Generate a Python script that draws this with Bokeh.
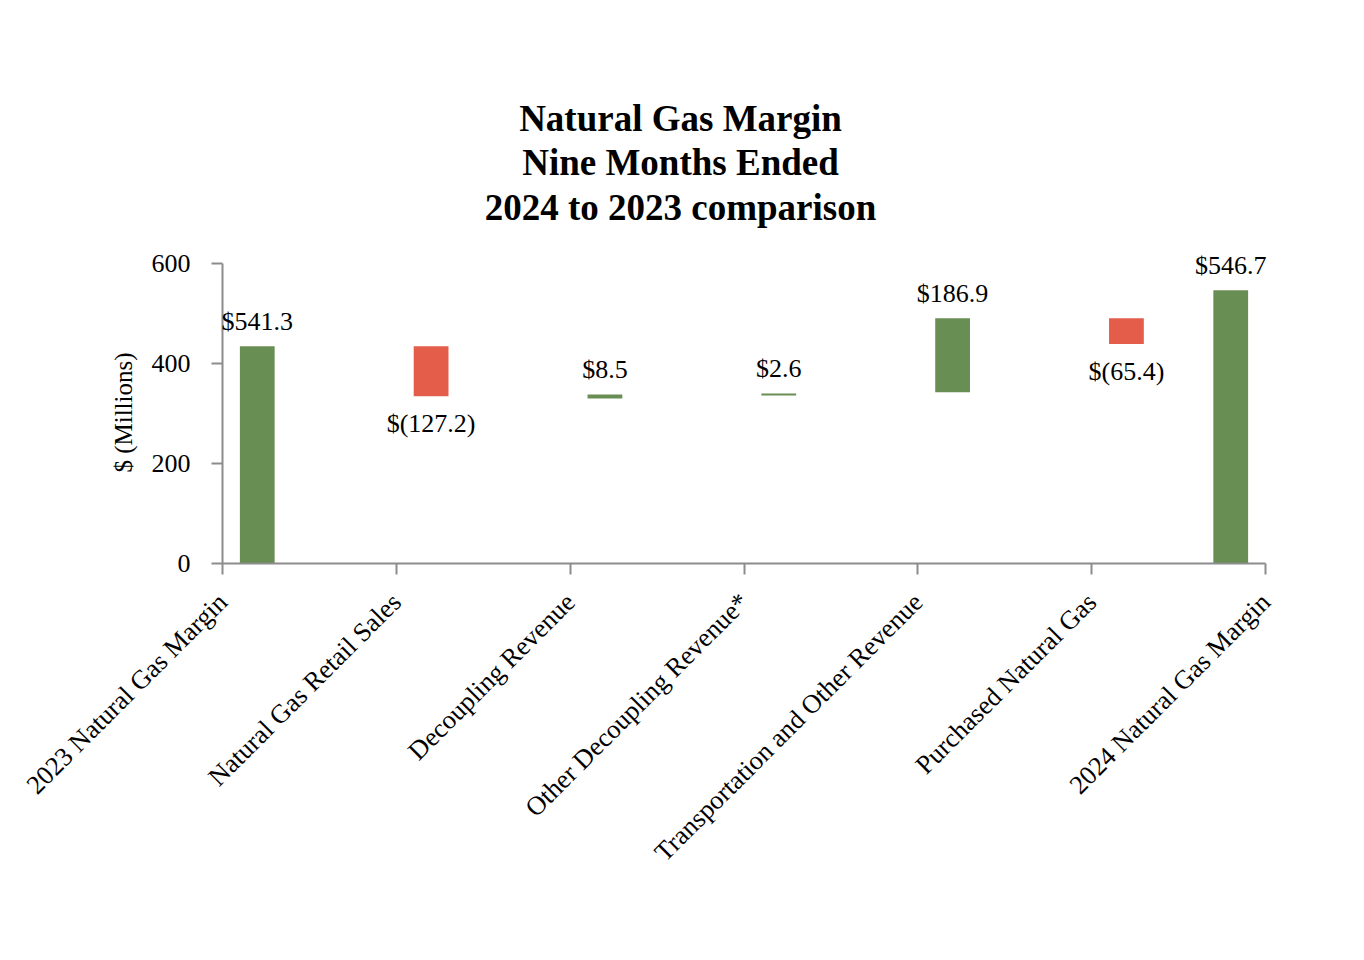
import numpy as np
from bokeh.plotting import figure
from bokeh.models import ColumnDataSource, LabelSet, Label, FixedTicker, Range1d
from bokeh.embed import file_html
from bokeh.resources import INLINE

# ---- data ----
categories = ["2023 Natural Gas Margin", "Natural Gas Retail Sales", "Decoupling Revenue",
              "Other Decoupling Revenue*", "Transportation and Other Revenue",
              "Purchased Natural Gas", "2024 Natural Gas Margin"]
bar_bottom = [0.0, 334.7, 330.0, 336.0, 342.7, 438.9, 0.0]
bar_top = [434.5, 434.5, 338.0, 340.0, 490.4, 490.4, 546.6]
value_labels = ["$541.3", "$(127.2)", "$8.5", "$2.6", "$186.9", "$(65.4)", "$546.7"]
kinds = ["total", "decrease", "increase", "increase", "increase", "decrease", "total"]
y_ticks = [0, 200, 400, 600]
y_axis_max = 600
y_axis_title = "$ (Millions)"
title_lines = ["Natural Gas Margin", "Nine Months Ended", "2024 to 2023 comparison"]

GREEN = "#698E53"
RED = "#E35D4A"
AXIS = "#8C8C8C"
FONT = "Liberation Serif"

# ---- layout (pixels) ----
W, H = 1350, 945
AX_L, AX_R = 222, 1265      # x of first / last category tick
Y0_PX, Y600_PX = 563, 263   # y of 0 and of 600
FRAME_L, FRAME_T, FRAME_R, FRAME_B = 10, 20, W - 10, H - 10
n = len(categories)

px_x = (AX_R - AX_L) / (n - 1)
px_y = (Y0_PX - Y600_PX) / float(y_axis_max)

def to_x(px):
    return (px - AX_L) / px_x

def to_y(py):
    return (Y0_PX - py) / px_y

x_pos = np.arange(n) + 0.2
x_pos[-1] = (n - 1) - 0.2
colors = [RED if k == "decrease" else GREEN for k in kinds]

src = ColumnDataSource(dict(x=x_pos, bottom=bar_bottom, top=bar_top, color=colors,
                            label=value_labels, kind=kinds))

up_idx = [i for i, k in enumerate(kinds) if k != "decrease"]
dn_idx = [i for i, k in enumerate(kinds) if k == "decrease"]
src_up = ColumnDataSource(dict(x=[x_pos[i] for i in up_idx], y=[bar_top[i] for i in up_idx],
                               label=[value_labels[i] for i in up_idx]))
src_dn = ColumnDataSource(dict(x=[x_pos[i] for i in dn_idx], y=[bar_bottom[i] for i in dn_idx],
                               label=[value_labels[i] for i in dn_idx]))

p = figure(width=W, height=H, output_backend="svg", toolbar_location=None,
           x_range=Range1d(to_x(FRAME_L), to_x(FRAME_R)),
           y_range=Range1d(to_y(FRAME_B), to_y(FRAME_T)),
           min_border_left=FRAME_L, min_border_right=W - FRAME_R, min_border_top=FRAME_T,
           min_border_bottom=H - FRAME_B)
p.outline_line_color = None
p.grid.visible = False
p.background_fill_color = "white"
p.border_fill_color = "white"

p.vbar(x="x", bottom="bottom", top="top", width=0.2, color="color", line_color=None, source=src)

common = dict(x="x", y="y", text="label", text_font=FONT, text_font_size="26px",
              text_align="center", text_baseline="middle", text_color="black")
p.add_layout(LabelSet(source=src_up, y_offset=25, **common))
p.add_layout(LabelSet(source=src_dn, y_offset=-27, **common))

# title lines, centred on the page
for line, ty in zip(title_lines, [118, 162, 207]):
    p.add_layout(Label(x=to_x(680), y=to_y(ty), text=line, text_font=FONT,
                       text_font_size="37px", text_font_style="bold", text_align="center",
                       text_baseline="middle", text_color="black"))

# y-axis title
p.add_layout(Label(x=to_x(123), y=to_y(412), text=y_axis_title, angle=np.pi / 2,
                   text_font=FONT, text_font_size="25px", text_align="center",
                   text_baseline="middle", text_color="black"))

# axes (fixed at the zero lines, spanning only the data extent)
ya = p.yaxis[0]
ya.fixed_location = 0
ya.ticker = FixedTicker(ticks=y_ticks)
ya.bounds = (0, y_axis_max)
ya.minor_tick_line_color = None
ya.major_tick_in = 0
ya.major_tick_out = 11
ya.axis_line_color = AXIS
ya.major_tick_line_color = AXIS
ya.axis_line_width = 2
ya.major_tick_line_width = 2
ya.major_label_text_font = FONT
ya.major_label_text_font_size = "26px"
ya.major_label_text_color = "black"
ya.major_label_standoff = 21

xa = p.xaxis[0]
xa.fixed_location = 0
xa.ticker = FixedTicker(ticks=list(range(n)))
xa.bounds = (0, n - 1)
xa.major_label_overrides = {i: c for i, c in enumerate(categories)}
xa.minor_tick_line_color = None
xa.major_tick_in = 0
xa.major_tick_out = 11
xa.axis_line_color = AXIS
xa.major_tick_line_color = AXIS
xa.axis_line_width = 2
xa.major_tick_line_width = 2
xa.major_label_text_font = FONT
xa.major_label_text_font_size = "26.5px"
xa.major_label_text_color = "black"
xa.major_label_orientation = np.pi / 4
xa.major_label_standoff = 23

open("out.html", "w").write(file_html(p, INLINE))
